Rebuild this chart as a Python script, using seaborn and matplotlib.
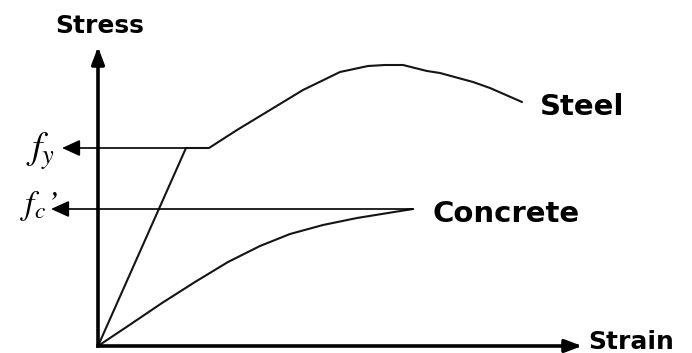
import numpy as np
import pandas as pd
import matplotlib
matplotlib.use("Agg")
import matplotlib.pyplot as plt
import seaborn as sns

# ============================
# data (relative units, origin = bottom-left of the axes)
# ============================
steel_strain = [0, 88, 111, 139, 172, 205, 242, 270, 287, 305, 329, 342, 375, 392, 424]
steel_stress = [0, 198, 198, 216, 236, 256, 274, 280, 281, 281, 275, 273, 264, 258, 244]

concrete_strain = [0, 30, 64, 97, 130, 162, 192, 225, 259, 290, 315]
concrete_stress = [0, 20, 43, 64, 84, 100, 112, 121, 128, 133, 137]

axis_limits = (484, 299)   # strain max, stress max
fy = steel_stress[1]       # yield stress
fc = concrete_stress[-1]   # concrete peak

# ============================
# figure
# ============================
sns.set_style("white")
W, H = 692, 353
fig = plt.figure(figsize=(W / 100, H / 100), dpi=100)
ax = fig.add_axes([98 / W, 7 / H, axis_limits[0] / W, axis_limits[1] / H])
ax.set_xlim(0, axis_limits[0])
ax.set_ylim(0, axis_limits[1])
for s in ax.spines.values():
    s.set_visible(False)
ax.set_xticks([])
ax.set_yticks([])
ax.patch.set_alpha(0)

df = pd.concat([
    pd.DataFrame({"strain": steel_strain, "stress": steel_stress, "material": "Steel"}),
    pd.DataFrame({"strain": concrete_strain, "stress": concrete_stress, "material": "Concrete"}),
])
sns.lineplot(data=df, x="strain", y="stress", units="material", estimator=None,
             sort=False, color="#141414", lw=1.5, ax=ax, legend=False)

# axis arrows
axis_arrow = dict(arrowstyle="-|>,head_length=1.0,head_width=0.38", lw=2.6, color="black",
                  mutation_scale=10, shrinkA=0, shrinkB=0, capstyle="projecting")
ax.annotate("", xy=(1, 0), xytext=(0, 0), xycoords="axes fraction", arrowprops=axis_arrow)
ax.annotate("", xy=(0, 1), xytext=(0, 0), xycoords="axes fraction", arrowprops=axis_arrow)

# leader arrows to fy and fc'
lead_arrow = dict(arrowstyle="-|>,head_length=1.1,head_width=0.5", lw=1.2, color="black",
                  mutation_scale=10, shrinkA=0, shrinkB=0)
ax.annotate("", xy=(-36, fy), xytext=(steel_strain[1], fy), arrowprops=lead_arrow,
            annotation_clip=False)
ax.annotate("", xy=(-47, fc), xytext=(concrete_strain[-1], fc), arrowprops=lead_arrow,
            annotation_clip=False)

# text labels
plt.rcParams["mathtext.fontset"] = "stix"
bold = dict(fontweight="bold", family="DejaVu Sans", va="baseline", ha="left", color="black")
fig.text(55 / W, 1 - 33 / H, "Stress", fontsize=18, **bold)
fig.text(588 / W, 1 - 349 / H, "Strain", fontsize=18, **bold)
fig.text(540 / W, 1 - 115 / H, "Steel", fontsize=21, **bold)
fig.text(433 / W, 1 - 222 / H, "Concrete", fontsize=21, **bold)

fig.text(26 / W, 1 - 159 / H, r"$f_y$", fontsize=27, va="baseline", ha="left", color="black")
fig.text(20 / W, 1 - 214 / H, r"$f_c$’", fontsize=24, va="baseline", ha="left",
         family="STIXGeneral", style="italic", color="black")

fig.savefig("out.png", dpi=100)
